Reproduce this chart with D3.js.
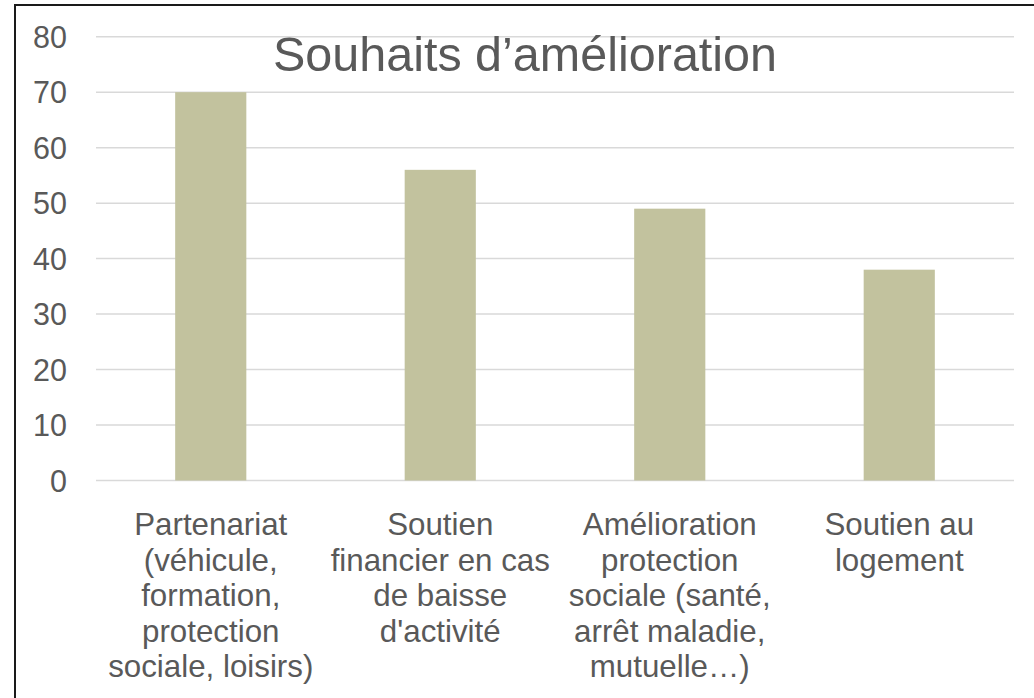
<!DOCTYPE html>
<html><head><meta charset="utf-8">
<script src="https://cdn.jsdelivr.net/npm/d3@7"></script>
<style>html,body{margin:0;padding:0;background:#fff;}svg{display:block;}</style>
</head><body>
<svg id="c" width="1034" height="698"></svg>
<script>
const categories = [
  ["Partenariat","(véhicule,","formation,","protection","sociale, loisirs)"],
  ["Soutien","financier en cas","de baisse","d'activité"],
  ["Amélioration","protection","sociale (santé,","arrêt maladie,","mutuelle…)"],
  ["Soutien au","logement"]
];
const values = [70, 56, 49, 38];
const yTicks = [0,10,20,30,40,50,60,70,80];
const title = "Souhaits d’amélioration";

const svg = d3.select("#c");
const W = 1034, H = 698;
const font = "'Liberation Sans', Arial, sans-serif";
svg.append("rect").attr("x",0).attr("y",0).attr("width",W).attr("height",H).attr("fill","#fff");
// border
svg.append("path").attr("d","M15,"+H+" V5 H"+W).attr("fill","none").attr("stroke","#1a1a1a").attr("stroke-width",2);

const x = d3.scaleBand().domain(d3.range(categories.length)).range([96,1014]).paddingInner(0.69).paddingOuter(0.345);
const y = d3.scaleLinear().domain([0,80]).range([480.5,36.7]);

const g = svg.append("g");
g.selectAll("line.grid").data(yTicks).join("line")
  .attr("x1",96).attr("x2",1014)
  .attr("y1",d=>y(d)).attr("y2",d=>y(d))
  .attr("stroke","#d9d9d9").attr("stroke-width",1.5);

const yAxis = d3.axisLeft(y).tickValues(yTicks).tickSize(0).tickPadding(0);
const ya = svg.append("g").attr("transform","translate(67,0)").call(yAxis);
ya.select(".domain").remove();
ya.selectAll("text").attr("font-family",font).attr("font-size",30.5).attr("fill","#595959").attr("dy","0.35em");

g.selectAll("rect.bar").data(values).join("rect")
  .attr("x",(d,i)=>x(i)).attr("width",x.bandwidth())
  .attr("y",d=>y(d)).attr("height",d=>y(0)-y(d))
  .attr("fill","#c2c29e");

const lab = svg.append("g");
categories.forEach((lines,i)=>{
  const t = lab.append("text").attr("text-anchor","middle")
    .attr("font-family",font).attr("font-size",31.3).attr("fill","#595959");
  lines.forEach((l,j)=>{
    t.append("tspan").attr("x",x(i)+x.bandwidth()/2).attr("y",535+j*35.5).text(l);
  });
});

svg.append("text").attr("x",525).attr("y",71).attr("text-anchor","middle")
  .attr("font-family",font).attr("font-size",48.5).attr("fill","#595959").text(title);
</script>
</body></html>
